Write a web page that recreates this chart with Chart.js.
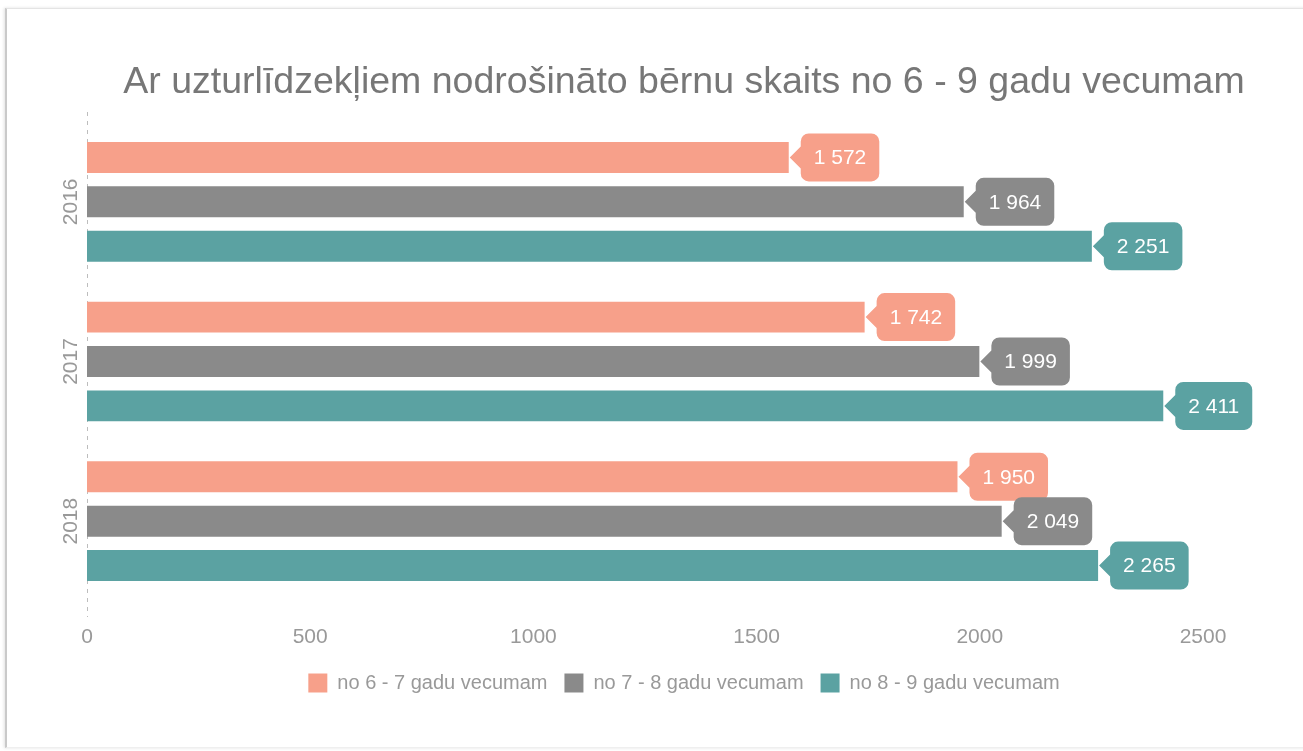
<!DOCTYPE html>
<html>
<head>
<meta charset="utf-8">
<script src="https://cdn.jsdelivr.net/npm/chart.js@4.4.0/dist/chart.umd.min.js"></script>
<style>
html,body{margin:0;padding:0;width:1303px;height:751px;overflow:hidden;background:#fff;}
#card{position:absolute;left:5px;top:8px;width:1400px;height:738px;border-left:2px solid #c9c9c9;border-top:1px solid #e4e4e4;border-bottom:1px solid #efefef;box-shadow:-1px 0 3px rgba(0,0,0,0.12);}
#c{position:absolute;left:8px;top:0;}
</style>
</head>
<body>
<div id="card"></div>
<canvas id="c" width="1352" height="751"></canvas>
<script>
const titleText = 'Ar uzturlīdzekļiem nodrošināto bērnu skaits no 6 - 9 gadu vecumam';
const categories = ['2016', '2017', '2018'];
const seriesNames = ['no 6 - 7 gadu vecumam', 'no 7 - 8 gadu vecumam', 'no 8 - 9 gadu vecumam'];
const age6to7 = [1572, 1742, 1950];
const age7to8 = [1964, 1999, 2049];
const age8to9 = [2251, 2411, 2265];
const xTickValues = [0, 500, 1000, 1500, 2000, 2500];

const FONT = '"Liberation Sans", Arial, Helvetica, sans-serif';
Chart.defaults.font.family = FONT;

function fmt(v) {
  return String(v).replace(/\B(?=(\d{3})+(?!\d))/g, ' ');
}

const zeroLinePlugin = {
  id: 'zeroLine',
  beforeDatasetsDraw(chart) {
    const ctx = chart.ctx;
    const x = Math.round(chart.scales.x.getPixelForValue(0)) + 0.5;
    const a = chart.chartArea;
    ctx.save();
    ctx.strokeStyle = '#bdbdbd';
    ctx.lineWidth = 1;
    ctx.setLineDash([4, 5]);
    ctx.beginPath();
    ctx.moveTo(x, a.top - 10);
    ctx.lineTo(x, a.bottom + 16);
    ctx.stroke();
    ctx.restore();
  }
};

const calloutPlugin = {
  id: 'callouts',
  afterDatasetsDraw(chart) {
    const ctx = chart.ctx;
    ctx.save();
    ctx.font = '21px ' + FONT;
    chart.data.datasets.forEach((ds, i) => {
      const meta = chart.getDatasetMeta(i);
      meta.data.forEach((bar, j) => {
        const text = fmt(ds.data[j]);
        const tw = ctx.measureText(text).width;
        const x0 = bar.x, y0 = bar.y;
        const left = x0 + 12, w = tw + 26, h = 48, top = y0 - h / 2, r = 8;
        ctx.beginPath();
        ctx.moveTo(x0 + 1, y0);
        ctx.lineTo(left, y0 - 11);
        ctx.lineTo(left, top + r);
        ctx.arcTo(left, top, left + r, top, r);
        ctx.lineTo(left + w - r, top);
        ctx.arcTo(left + w, top, left + w, top + r, r);
        ctx.lineTo(left + w, top + h - r);
        ctx.arcTo(left + w, top + h, left + w - r, top + h, r);
        ctx.lineTo(left + r, top + h);
        ctx.arcTo(left, top + h, left, top + h - r, r);
        ctx.lineTo(left, y0 + 11);
        ctx.closePath();
        ctx.fillStyle = ds.backgroundColor;
        ctx.fill();
        ctx.fillStyle = '#ffffff';
        ctx.textAlign = 'center';
        ctx.textBaseline = 'middle';
        ctx.fillText(text, left + w / 2, y0 + 1);
      });
    });
    ctx.restore();
  }
};

const colors = ['#F7A08A', '#8A8A8A', '#5BA2A2'];
const seriesData = [age6to7, age7to8, age8to9];

new Chart(document.getElementById('c'), {
  type: 'bar',
  data: {
    labels: categories,
    datasets: seriesNames.map((name, i) => ({
      label: name,
      data: seriesData[i],
      backgroundColor: colors[i],
      borderWidth: 0,
      categoryPercentage: 0.834,
      barPercentage: 0.697
    }))
  },
  options: {
    indexAxis: 'y',
    responsive: false,
    animation: false,
    layout: { padding: { left: 0, right: 0, top: 0, bottom: 48 } },
    plugins: {
      title: {
        display: true,
        text: titleText,
        color: '#777777',
        font: { size: 37.5, weight: 'normal', family: FONT },
        padding: { top: 60, bottom: 17 }
      },
      legend: {
        position: 'bottom',
        labels: {
          boxWidth: 19,
          boxHeight: 19,
          padding: 17,
          color: '#999999',
          font: { size: 20, family: FONT }
        }
      },
      tooltip: { enabled: false }
    },
    scales: {
      x: {
        type: 'linear',
        position: 'bottom',
        min: xTickValues[0],
        max: xTickValues[xTickValues.length - 1],
        afterBuildTicks(s) { s.ticks = xTickValues.map(v => ({ value: v })); },
        grid: { display: false, drawTicks: false },
        border: { display: false },
        ticks: { color: '#999999', font: { size: 21 }, padding: 24, callback: v => String(v) },
        afterFit(s) { s.height = 55; }
      },
      y: {
        type: 'category',
        position: 'left',
        grid: { display: false, drawTicks: false },
        border: { display: false },
        ticks: {
          color: '#999999',
          font: { size: 21 },
          minRotation: 90,
          maxRotation: 90,
          crossAlign: 'center',
          padding: -7.4
        },
        afterFit(s) { s.width = 79; }
      },
      yRight: {
        type: 'category',
        position: 'right',
        display: true,
        grid: { display: false, drawTicks: false },
        border: { display: false },
        ticks: { display: false },
        afterFit(s) { s.width = 157; }
      }
    }
  },
  plugins: [zeroLinePlugin, calloutPlugin]
});
</script>
</body>
</html>
